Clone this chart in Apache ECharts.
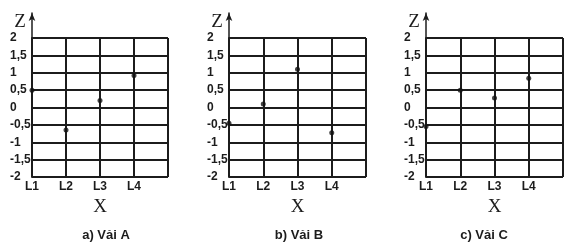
<!DOCTYPE html>
<html><head><meta charset="utf-8">
<script src="https://cdn.jsdelivr.net/npm/echarts@6/dist/echarts.min.js"></script>
<style>html,body{margin:0;padding:0;background:#fff}#c{width:576px;height:245px}</style>
</head><body><div id="c"></div>
<script>
const categories = ['L1', 'L2', 'L3', 'L4'];
const yTickLabels = ['-2', '-1,5', '-1', '-0,5', '0', '0,5', '1', '1,5', '2'];
const valuesA = [0.5, -0.65, 0.2, 0.92];
const valuesB = [-0.45, 0.1, 1.1, -0.73];
const valuesC = [-0.55, 0.5, 0.27, 0.84];
const captions = ['a) Vải A', 'b) Vải B', 'c) Vải C'];

const panels = [
  {left: 32, width: 136, cap: 106, z: 20, data: valuesA},
  {left: 229, width: 137, cap: 299, z: 217, data: valuesB},
  {left: 426, width: 137, cap: 484, z: 414, data: valuesC}
];
const ink = '#1c1c1c';
const grid = [], xAxis = [], yAxis = [], series = [], graphic = [];
panels.forEach((p, i) => {
  grid.push({left: p.left, width: p.width, top: 38, height: 139, containLabel: false});
});
panels.forEach((p, i) => {
  grid.push({left: p.left, width: p.width, top: 13, height: 25});
});
panels.forEach((p, i) => {
  xAxis.push({
    type: 'category', gridIndex: i, data: categories.concat(['']), boundaryGap: false,
    axisLine: {show: true, lineStyle: {color: ink, width: 2}},
    axisTick: {show: false},
    axisLabel: {show: true, color: ink, fontFamily: 'Liberation Sans', fontWeight: 'bold', fontSize: 12, margin: 4},
    splitLine: {show: true, lineStyle: {color: ink, width: 2}},
    name: 'X', nameLocation: 'middle', nameGap: 13,
    nameTextStyle: {fontFamily: 'Liberation Serif', fontSize: 19, color: ink}
  });
  yAxis.push({
    type: 'value', gridIndex: i, min: -2, max: 2, interval: 0.5,
    axisLine: {show: true, onZero: false, lineStyle: {color: ink, width: 2}},
    axisTick: {show: false},
    axisLabel: {
      show: true, color: ink, fontFamily: 'Liberation Sans', fontWeight: 'bold', fontSize: 12,
      align: 'left', margin: 22,
      formatter: v => yTickLabels[Math.round((v + 2) / 0.5)]
    },
    splitLine: {show: true, lineStyle: {color: ink, width: 2}}
  });
});
panels.forEach((p, i) => {
  xAxis.push({type: 'value', gridIndex: 3 + i, show: false, min: 0, max: 1});
  yAxis.push({
    type: 'value', gridIndex: 3 + i, min: 0, max: 1,
    axisLine: {show: true, symbol: ['none', 'arrow'], symbolSize: [5, 8], lineStyle: {color: ink, width: 1.5}},
    axisTick: {show: false}, axisLabel: {show: false}, splitLine: {show: false}
  });
});
panels.forEach((p, i) => {
  series.push({
    type: 'scatter', xAxisIndex: i, yAxisIndex: i, clip: false,
    symbol: 'circle', symbolSize: 5,
    itemStyle: {color: '#111'},
    data: p.data.map((v, k) => [categories[k], v])
  });
  graphic.push({
    type: 'text', x: p.z, y: 22,
    style: {text: 'Z', fontFamily: 'Liberation Serif', fontSize: 19, fill: ink, textAlign: 'center', textVerticalAlign: 'middle'}
  });
  graphic.push({
    type: 'text', x: p.cap, y: 235,
    style: {text: captions[i], fontFamily: 'Liberation Sans', fontWeight: 'bold', fontSize: 13, fill: ink, textAlign: 'center', textVerticalAlign: 'middle'}
  });
});

const chart = echarts.init(document.getElementById('c'), null, {renderer: 'canvas'});
chart.setOption({animation: false, backgroundColor: '#fff', grid, xAxis, yAxis, series, graphic});
</script>
</body></html>
